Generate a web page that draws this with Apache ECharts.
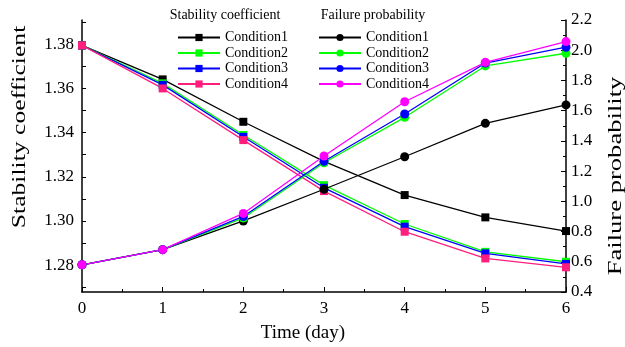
<!DOCTYPE html>
<html>
<head>
<meta charset="utf-8">
<script src="https://cdn.jsdelivr.net/npm/echarts@6/dist/echarts.min.js"></script>
<style>html,body{margin:0;padding:0;background:#fff;}#c{width:625px;height:347px;}</style>
</head>
<body>
<div id="c"></div>
<script>
const days = [0, 1, 2, 3, 4, 5, 6];
const conditions = ['Condition1', 'Condition2', 'Condition3', 'Condition4'];
const stab1 = [1.3795, 1.3641, 1.3449, 1.3270, 1.3117, 1.3016, 1.2954];
const stab2 = [1.3795, 1.3623, 1.3389, 1.3162, 1.2986, 1.2860, 1.2815];
const stab3 = [1.3795, 1.3616, 1.3381, 1.3150, 1.2974, 1.2853, 1.2805];
const stab4 = [1.3795, 1.3600, 1.3366, 1.3135, 1.2951, 1.2830, 1.2790];
const fail1 = [0.58, 0.68, 0.87, 1.08, 1.295, 1.516, 1.638];
const fail2 = [0.58, 0.68, 0.89, 1.255, 1.556, 1.896, 1.98];
const fail3 = [0.58, 0.68, 0.90, 1.265, 1.578, 1.915, 2.02];
const fail4 = [0.58, 0.68, 0.92, 1.30, 1.659, 1.92, 2.057];
const leftLabels = [1.28, 1.30, 1.32, 1.34, 1.36, 1.38];
const leftTicks = [1.27, 1.28, 1.29, 1.30, 1.31, 1.32, 1.33, 1.34, 1.35, 1.36, 1.37, 1.38, 1.39];

const stabColors = ['#000000', '#00ff00', '#0000ff', '#ff1e7d'];
const failColors = ['#000000', '#00ff00', '#0000ff', '#ff00ff'];
const FONT = '"Liberation Serif", "Times New Roman", serif';

const stabSets = [stab1, stab2, stab3, stab4];
const failSets = [fail1, fail2, fail3, fail4];
const pair = arr => days.map((d, i) => [d, arr[i]]);

const series = [];
stabSets.forEach((s, k) => series.push({
  name: 'S|' + conditions[k], type: 'line', yAxisIndex: 0, data: pair(s),
  symbol: 'rect', symbolSize: 8, color: stabColors[k],
  lineStyle: { width: 1.3, color: stabColors[k] }, itemStyle: { color: stabColors[k] }, z: 2
}));
failSets.forEach((s, k) => series.push({
  name: 'F|' + conditions[k], type: 'line', yAxisIndex: 1, data: pair(s),
  symbol: 'circle', symbolSize: 9, color: failColors[k],
  lineStyle: { width: 1.3, color: failColors[k] }, itemStyle: { color: failColors[k] }, z: 3
}));

const axisLine = { show: true, lineStyle: { color: '#000', width: 1.5 } };
const legendBase = {
  orient: 'vertical', itemWidth: 42, itemHeight: 9, itemGap: 0.5, selectedMode: false,
  formatter: n => n.split('|')[1],
  textStyle: { fontFamily: FONT, fontSize: 14, color: '#000', lineHeight: 15 }
};

const chart = echarts.init(document.getElementById('c'));
chart.setOption({
  animation: false,
  backgroundColor: '#fff',
  grid: { left: 82, right: 59, top: 20, bottom: 55 },
  xAxis: {
    type: 'value', min: 0, max: 6, interval: 1,
    axisLine: axisLine,
    axisTick: { show: true, inside: true, length: 5, lineStyle: { color: '#000', width: 1 } },
    minorTick: { show: true, splitNumber: 2, length: 3, lineStyle: { color: '#000', width: 1 } },
    axisLabel: { fontFamily: FONT, fontSize: 17, color: '#000', margin: 8 },
    splitLine: { show: false }
  },
  yAxis: [{
    type: 'value', position: 'left', min: 1.2678, max: 1.391,
    axisLine: axisLine,
    axisTick: { show: true, inside: true, length: 4, customValues: leftTicks, lineStyle: { color: '#000', width: 1 } },
    axisLabel: { customValues: leftLabels, formatter: v => v.toFixed(2), fontFamily: FONT, fontSize: 17, color: '#000', margin: 8 },
    splitLine: { show: false }
  }, {
    type: 'value', position: 'right', min: 0.4, max: 2.2, interval: 0.2,
    axisLine: axisLine,
    axisTick: { show: true, inside: true, length: 5, lineStyle: { color: '#000', width: 1 } },
    minorTick: { show: true, splitNumber: 2, length: 3, lineStyle: { color: '#000', width: 1 } },
    axisLabel: { formatter: v => v.toFixed(1), fontFamily: FONT, fontSize: 17, color: '#000', margin: 5 },
    splitLine: { show: false }
  }],
  legend: [
    Object.assign({}, legendBase, { left: 172, top: 25, data: conditions.map(c => 'S|' + c) }),
    Object.assign({}, legendBase, { left: 313, top: 25, data: conditions.map(c => 'F|' + c) })
  ],
  graphic: [
    { type: 'text', x: 225, y: 15, style: { text: 'Stability coefficient', font: '14px ' + FONT, fill: '#000', textAlign: 'center', textVerticalAlign: 'middle' } },
    { type: 'text', x: 373, y: 15, style: { text: 'Failure probability', font: '14px ' + FONT, fill: '#000', textAlign: 'center', textVerticalAlign: 'middle' } },
    { type: 'text', x: 303, y: 333, style: { text: 'Time (day)', font: '19px ' + FONT, fill: '#000', textAlign: 'center', textVerticalAlign: 'middle' } },
    { type: 'text', x: 20, y: 127, rotation: Math.PI / 2, scaleX: 1.35, style: { text: 'Stability coefficient', font: '19px ' + FONT, fill: '#000', textAlign: 'center', textVerticalAlign: 'middle' } },
    { type: 'text', x: 616, y: 176, rotation: Math.PI / 2, scaleX: 1.4, style: { text: 'Failure probability', font: '19px ' + FONT, fill: '#000', textAlign: 'center', textVerticalAlign: 'middle' } }
  ],
  series: series
});
</script>
</body>
</html>
